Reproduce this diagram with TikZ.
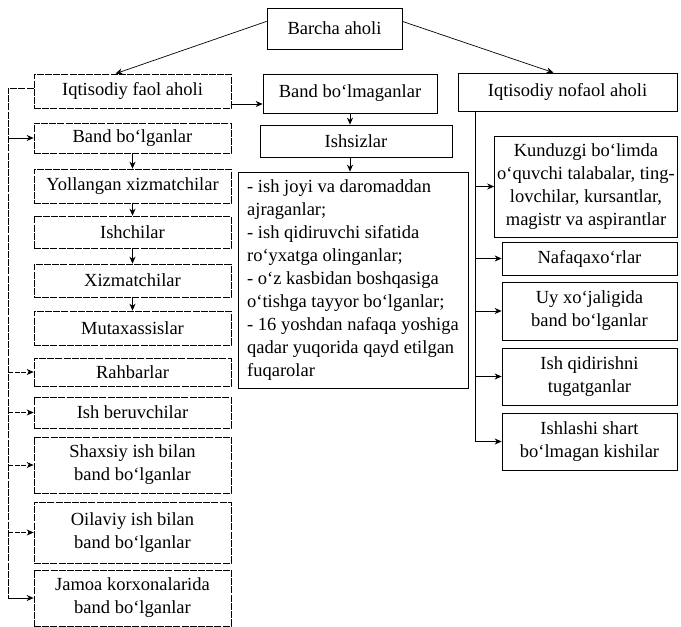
\documentclass[tikz,border=0pt]{standalone}
\usepackage{fontspec}
\setmainfont{Liberation Serif}
\usetikzlibrary{arrows.meta}
\begin{document}
\begin{tikzpicture}[x=1pt,y=-1pt,
  box/.style={draw, line width=0.7pt, align=center, inner sep=1pt, font=\fontsize{18.5}{23}\selectfont},
  dbox/.style={box, dash pattern=on 7pt off 1.2pt},
  arr/.style={-{Stealth[length=7pt,width=6pt]}, line width=0.7pt},
  darr/.style={arr, dash pattern=on 5pt off 1.5pt},
  ln/.style={line width=0.7pt},
  dln/.style={ln, dash pattern=on 7pt off 1.2pt}]
\useasboundingbox (0,0) rectangle (681,627);

% top
\node[box, minimum width=135pt, minimum height=41pt] (bar) at (334.5,28.5) {Barcha aholi};

% left column
\node[dbox, minimum width=197pt, minimum height=34pt] (faol) at (132.5,91) {Iqtisodiy faol aholi};
\node[dbox, minimum width=197pt, minimum height=30pt] (bb) at (132.5,138) {Band bo‘lganlar};
\node[dbox, minimum width=197pt, minimum height=34pt] (yol) at (132.5,186) {Yollangan xizmatchilar};
\node[dbox, minimum width=197pt, minimum height=32pt] (ishchi) at (132.5,232) {Ishchilar};
\node[dbox, minimum width=197pt, minimum height=33pt] (xiz) at (132.5,280.5) {Xizmatchilar};
\node[dbox, minimum width=197pt, minimum height=34pt] (mut) at (132.5,328) {Mutaxassislar};
\node[dbox, minimum width=197pt, minimum height=28pt] (rah) at (132.5,372) {Rahbarlar};
\node[dbox, minimum width=197pt, minimum height=31pt] (ishb) at (132.5,412.5) {Ish beruvchilar};
\node[dbox, minimum width=197pt, minimum height=56pt] (shax) at (132.5,465) {Shaxsiy ish bilan\\band bo‘lganlar};
\node[dbox, minimum width=197pt, minimum height=61pt] (oil) at (132.5,532.5) {Oilaviy ish bilan\\band bo‘lganlar};
\node[dbox, minimum width=197pt, minimum height=56pt] (jam) at (132.5,598) {Jamoa korxonalarida\\band bo‘lganlar};

% middle column
\node[box, minimum width=174pt, minimum height=39pt] (bm) at (350,93.5) {Band bo‘lmaganlar};
\node[box, minimum width=192pt, minimum height=32pt] (ishs) at (356,141) {Ishsizlar};
\node[box, minimum width=230pt, minimum height=216pt, align=left] (lst) at (353,280) {- ish joyi va daromaddan\\ajraganlar;\\- ish qidiruvchi sifatida\\ro‘yxatga olinganlar;\\- o‘z kasbidan boshqasiga\\o‘tishga tayyor bo‘lganlar;\\- 16 yoshdan nafaqa yoshiga\\qadar yuqorida qayd etilgan\\fuqarolar};

% right column
\node[box, minimum width=219pt, minimum height=38pt] (nof) at (567.5,92) {Iqtisodiy nofaol aholi};
\node[box, minimum width=183pt, minimum height=101pt] (kun) at (586,186.5) {Kunduzgi bo‘limda\\o‘quvchi talabalar, ting-\\lovchilar, kursantlar,\\magistr va aspirantlar};
\node[box, minimum width=175pt, minimum height=33pt] (naf) at (589.5,258.5) {Nafaqaxo‘rlar};
\node[box, minimum width=175pt, minimum height=58pt] (uy) at (589.5,311) {Uy xo‘jaligida\\band bo‘lganlar};
\node[box, minimum width=175pt, minimum height=57pt] (isq) at (589.5,376.5) {Ish qidirishni\\tugatganlar};
\node[box, minimum width=175pt, minimum height=57pt] (ishl) at (589.5,441.5) {Ishlashi shart\\bo‘lmagan kishilar};

% connectors from top
\draw[arr] (bar.174) -- ([xshift=-17pt]faol.north);
\draw[arr] (bar.6) -- ([xshift=-14pt]nof.north);
\draw[arr] ([yshift=-13pt]faol.east) -- ([yshift=-13pt]faol.east -| bm.west);

% left column chain
\draw[arr] (bb.south) -- (yol.north);
\draw[arr] (yol.south) -- (ishchi.north);
\draw[arr] (ishchi.south) -- (xiz.north);
\draw[arr] (xiz.south) -- (mut.north);

% left spine
\coordinate (spL) at (8,0);
\draw[dln] ([yshift=3pt]faol.west) -- ([yshift=3pt]faol.west -| spL) -- (jam.west -| spL);
\draw[arr] (bb.west -| spL) -- (bb.west);
\foreach \n in {rah,ishb,shax,oil}
  \draw[darr] (\n.west -| spL) -- (\n.west);
\draw[arr] (jam.west -| spL) -- (jam.west);

% middle chain
\draw[arr] (bm.south) -- (bm.south |- ishs.north);
\draw[arr] (bm.south |- ishs.south) -- (bm.south |- lst.north);

% right spine
\coordinate (spR) at (475,0);
\draw[ln] (nof.south -| spR) -- (ishl.west -| spR);
\foreach \n in {kun,naf,uy,isq,ishl}
  \draw[arr] (\n.west -| spR) -- (\n.west);
\end{tikzpicture}
\end{document}
